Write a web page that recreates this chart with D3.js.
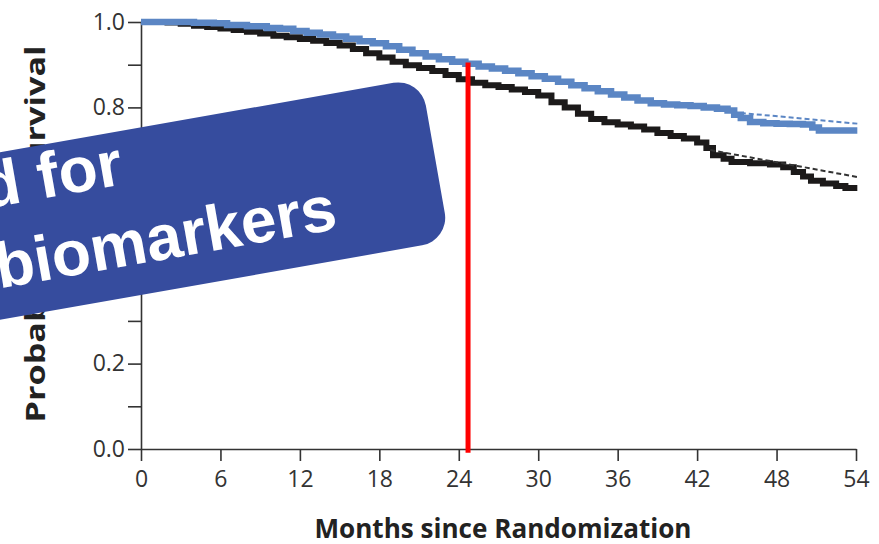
<!DOCTYPE html>
<html>
<head>
<meta charset="utf-8">
<script src="https://cdn.jsdelivr.net/npm/d3@7/dist/d3.min.js"></script>
<style>
  html, body { margin: 0; padding: 0; background: #fff; }
  svg { display: block; }
</style>
</head>
<body>
<svg id="chart" width="879" height="544"></svg>
<script>
// Kaplan-Meier survival estimates, months since randomization
const blueMonths = [0, 2, 4, 5.5, 6.5, 8, 9.5, 10.5, 11.5, 12.5, 13.5, 14.5, 15.5, 16.5, 17.5, 18.5, 19.5,
  20.5, 21.5, 22.5, 23.5, 24.5, 25.5, 26.5, 27.5, 28.5, 29.5, 30.5, 31.5, 32.5, 33.5, 34.5, 35.5,
  36.5, 37.5, 38.5, 39.5, 40.5, 41.5, 42.5, 43.5, 44.3, 44.8, 45.3, 46, 47, 48, 49, 50, 50.7, 51.2, 54.1];
const blueSurvival = [1.0, 1.0, 0.998, 0.997, 0.993, 0.99, 0.986, 0.984, 0.979, 0.975, 0.971, 0.966, 0.961, 0.955, 0.950, 0.943, 0.935,
  0.927, 0.919, 0.913, 0.907, 0.902, 0.896, 0.891, 0.886, 0.880, 0.873, 0.867, 0.860, 0.852, 0.845, 0.838, 0.830,
  0.823, 0.816, 0.810, 0.807, 0.805, 0.803, 0.800, 0.797, 0.793, 0.783, 0.775, 0.766, 0.763, 0.762, 0.761, 0.760, 0.753, 0.746, 0.746];

const blackMonths = [0, 2, 3, 4, 5, 6, 7, 8, 9, 10, 11, 12, 13, 14, 15, 16, 17, 18, 19, 20, 21, 22, 23, 24, 25, 26,
  27, 28, 29, 30, 31, 32, 33, 34, 35, 36, 37, 38, 39, 40, 41, 42, 42.7, 43.2, 44, 44.6, 46, 47.5, 48.5, 49.3,
  50, 50.6, 51.5, 52.5, 53.2, 54.1];
const blackSurvival = [1.0, 0.999, 0.996, 0.991, 0.988, 0.985, 0.981, 0.977, 0.973, 0.968, 0.964, 0.960, 0.956, 0.951, 0.945, 0.937, 0.927, 0.917, 0.907, 0.899, 0.892, 0.885, 0.876, 0.866, 0.858, 0.852,
  0.848, 0.842, 0.836, 0.828, 0.812, 0.800, 0.785, 0.773, 0.765, 0.760, 0.755, 0.748, 0.740, 0.733, 0.727, 0.718, 0.705, 0.688, 0.680, 0.672, 0.669, 0.666, 0.660, 0.649,
  0.638, 0.628, 0.622, 0.616, 0.611, 0.611];

// Fitted projections (dashed) over the tail of each curve
const blueFitMonths = [45.3, 54.1];
const blueFitSurvival = [0.787, 0.762];
const blackFitMonths = [43.0, 54.1];
const blackFitSurvival = [0.700, 0.637];

// Vertical reference marker
const markerMonth = 24.7;
const markerRange = [-0.009, 0.905];

const xTicks = [0, 6, 12, 18, 24, 30, 36, 42, 48, 54];
const yTicks = [0, 0.1, 0.2, 0.3, 0.4, 0.5, 0.6, 0.7, 0.8, 0.9, 1.0];
const yLabelled = [0, 0.2, 0.4, 0.6, 0.8, 1.0];

const xTitle = "Months since Randomization";
const yTitle = "Probability of Survival";
const bannerLines = ["d for", "biomarkers"];

const svg = d3.select("#chart");
const x = d3.scaleLinear().domain([0, 54]).range([141, 856]);
const y = d3.scaleLinear().domain([0, 1]).range([449, 22]);

const tickFont = "'Open Sans', 'DejaVu Sans', sans-serif";

// Y axis
const yAxis = svg.append("g")
  .attr("transform", `translate(${x(0)},0)`)
  .call(d3.axisLeft(y).tickValues(yTicks).tickSize(13).tickSizeOuter(0).tickPadding(3)
    .tickFormat(d => yLabelled.some(v => Math.abs(v - d) < 1e-9) ? d3.format(".1f")(d) : ""));
yAxis.selectAll("path, line").attr("stroke", "#333").attr("stroke-width", 1.6);
yAxis.selectAll("text").attr("font-family", tickFont).attr("font-size", 23).attr("fill", "#333");

// X axis
const xAxis = svg.append("g")
  .attr("transform", `translate(0,${y(0)})`)
  .call(d3.axisBottom(x).tickValues(xTicks).tickSize(12).tickSizeOuter(0).tickPadding(10)
    .tickFormat(d3.format("d")));
xAxis.selectAll("path, line").attr("stroke", "#333").attr("stroke-width", 1.6);
xAxis.selectAll("text").attr("font-family", tickFont).attr("font-size", 23).attr("fill", "#333");

// Axis titles
svg.append("text")
  .attr("x", 503).attr("y", 538)
  .attr("text-anchor", "middle")
  .attr("font-family", tickFont).attr("font-weight", "bold").attr("font-size", 26)
  .attr("fill", "#222")
  .attr("textLength", 377).attr("lengthAdjust", "spacingAndGlyphs")
  .text(xTitle);

svg.append("text")
  .attr("transform", "translate(45,234) rotate(-90)")
  .attr("text-anchor", "middle")
  .attr("font-family", tickFont).attr("font-weight", "bold").attr("font-size", 26)
  .attr("fill", "#222")
  .attr("textLength", 377).attr("lengthAdjust", "spacingAndGlyphs")
  .text(yTitle);

// Survival curves
const step = d3.line().x(d => x(d[0])).y(d => y(d[1])).curve(d3.curveStepAfter);
const straight = d3.line().x(d => x(d[0])).y(d => y(d[1]));
const zip = (a, b) => a.map((v, i) => [v, b[i]]);

svg.append("path")
  .attr("d", step(zip(blackMonths, blackSurvival)))
  .attr("fill", "none").attr("stroke", "#1c1a1a").attr("stroke-width", 6);

svg.append("path")
  .attr("d", step(zip(blueMonths, blueSurvival)))
  .attr("fill", "none").attr("stroke", "#5b86c4").attr("stroke-width", 6.5);

svg.append("path")
  .attr("d", straight(zip(blueFitMonths, blueFitSurvival)))
  .attr("fill", "none").attr("stroke", "#5b86c4").attr("stroke-width", 2)
  .attr("stroke-dasharray", "5,3");

svg.append("path")
  .attr("d", straight(zip(blackFitMonths, blackFitSurvival)))
  .attr("fill", "none").attr("stroke", "#333").attr("stroke-width", 2)
  .attr("stroke-dasharray", "5,3");

// Reference marker
svg.append("line")
  .attr("x1", x(markerMonth)).attr("x2", x(markerMonth))
  .attr("y1", y(markerRange[0])).attr("y2", y(markerRange[1]))
  .attr("stroke", "#ff0000").attr("stroke-width", 5);

// Banner overlay
const banner = svg.append("g").attr("transform", "translate(421,78) rotate(-10)");
banner.append("rect")
  .attr("x", -640).attr("y", 0).attr("width", 640).attr("height", 165)
  .attr("rx", 28).attr("ry", 28)
  .attr("fill", "#364c9e");
banner.selectAll("text.banner")
  .data(bannerLines)
  .join("text")
  .attr("class", "banner")
  .attr("x", -452)
  .attr("y", (d, i) => 53 + i * 81)
  .attr("font-family", "'Liberation Sans', Arial, sans-serif")
  .attr("font-weight", "bold").attr("font-size", 64)
  .attr("fill", "#fff")
  .text(d => d);
</script>
</body>
</html>
